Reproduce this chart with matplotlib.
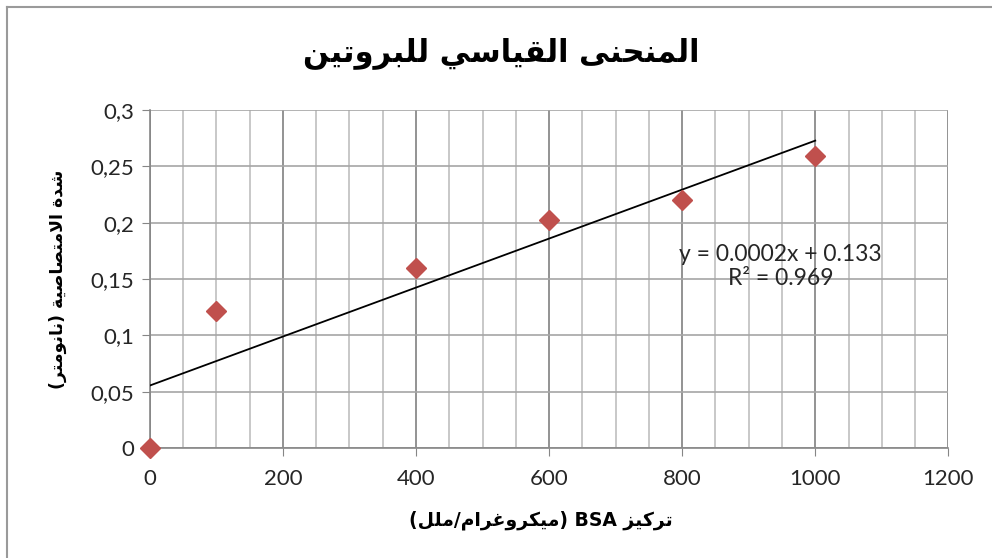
import numpy as np
import matplotlib
matplotlib.use("Agg")
import matplotlib.pyplot as plt
from matplotlib.lines import Line2D
from matplotlib.ticker import MultipleLocator, FuncFormatter

# BSA standard curve readings
concentration = [0, 100, 400, 600, 800, 1000]
absorbance = [0.0, 0.122, 0.160, 0.202, 0.220, 0.259]

title_text = "المنحنى القياسي للبروتين"
xlabel_text = "تركيز BSA (ميكروغرام/ملل)"
ylabel_text = "شدة الامتصاصية (نانومتر)"
equation_text = "y = 0.0002x + 0.133\nR² = 0.969"

x_ticks = [0, 200, 400, 600, 800, 1000, 1200]
y_ticks = [0, 0.05, 0.1, 0.15, 0.2, 0.25, 0.3]

# --- minimal Arabic shaping (matplotlib has no text layout engine for RTL) ---
# letter: (isolated, final, initial, medial); None means the form does not exist
FORMS = {
    "ا": (0xFE8D, 0xFE8E, None, None),
    "ب": (0xFE8F, 0xFE90, 0xFE91, 0xFE92),
    "ة": (0xFE93, 0xFE94, None, None),
    "ت": (0xFE95, 0xFE96, 0xFE97, 0xFE98),
    "ح": (0xFEA1, 0xFEA2, 0xFEA3, 0xFEA4),
    "د": (0xFEA9, 0xFEAA, None, None),
    "ر": (0xFEAD, 0xFEAE, None, None),
    "ز": (0xFEAF, 0xFEB0, None, None),
    "س": (0xFEB1, 0xFEB2, 0xFEB3, 0xFEB4),
    "ش": (0xFEB5, 0xFEB6, 0xFEB7, 0xFEB8),
    "ص": (0xFEB9, 0xFEBA, 0xFEBB, 0xFEBC),
    "غ": (0xFECD, 0xFECE, 0xFECF, 0xFED0),
    "ق": (0xFED5, 0xFED6, 0xFED7, 0xFED8),
    "ك": (0xFED9, 0xFEDA, 0xFEDB, 0xFEDC),
    "ل": (0xFEDD, 0xFEDE, 0xFEDF, 0xFEE0),
    "م": (0xFEE1, 0xFEE2, 0xFEE3, 0xFEE4),
    "ن": (0xFEE5, 0xFEE6, 0xFEE7, 0xFEE8),
    "و": (0xFEED, 0xFEEE, None, None),
    "ى": (0xFEEF, 0xFEF0, None, None),
    "ي": (0xFEF1, 0xFEF2, 0xFEF3, 0xFEF4),
    "ﻻ": (0xFEFB, 0xFEFC, None, None),
}


def joins_forward(ch):
    return ch in FORMS and FORMS[ch][2] is not None


def shape(text):
    text = text.replace("لا", "ﻻ")
    out = []
    for i, ch in enumerate(text):
        if ch not in FORMS:
            out.append(ch)
            continue
        prev = text[i - 1] if i > 0 else ""
        nxt = text[i + 1] if i + 1 < len(text) else ""
        left = joins_forward(prev)
        right = joins_forward(ch) and nxt in FORMS
        iso, fin, ini, med = FORMS[ch]
        if left and right:
            code = med
        elif left:
            code = fin
        elif right:
            code = ini
        else:
            code = iso
        out.append(chr(code))
    return "".join(out)


def rtl(text):
    shaped = shape(text)[::-1]
    # put latin runs back in reading order and mirror the brackets
    chars = []
    run = []
    for ch in shaped:
        if ch.isascii() and ch.isalnum():
            run.append(ch)
        else:
            chars.extend(run[::-1])
            run = []
            chars.append({"(": ")", ")": "("}.get(ch, ch))
    chars.extend(run[::-1])
    return "".join(chars)


fig = plt.figure(figsize=(9.92, 5.58), dpi=100)
ax = fig.add_axes([0.151, 0.197, 0.805, 0.606])

# chart area frame: only the top and left edges fall inside the canvas
frame_x = 7 / 992
frame_y = 1 - 7 / 558
fig.add_artist(Line2D([frame_x, 1], [frame_y, frame_y], transform=fig.transFigure,
                      color="#9a9a9a", linewidth=1.5))
fig.add_artist(Line2D([frame_x, frame_x], [0, frame_y], transform=fig.transFigure,
                      color="#9a9a9a", linewidth=1.5))

ax.set_xlim(x_ticks[0], x_ticks[-1])
ax.set_ylim(y_ticks[0], y_ticks[-1])
ax.xaxis.set_minor_locator(MultipleLocator(50))
ax.set_xticks(x_ticks)
ax.set_yticks(y_ticks)
ax.yaxis.set_major_formatter(FuncFormatter(lambda v, p: f"{v:g}".replace(".", ",")))

ax.grid(which="minor", axis="x", color="#bfbfbf", linewidth=1.2)
ax.grid(which="major", axis="x", color="#808080", linewidth=1.2)
ax.grid(which="major", axis="y", color="#a6a6a6", linewidth=1.2)
ax.set_axisbelow(True)

for side in ["top", "right"]:
    ax.spines[side].set_visible(False)
for side in ["left", "bottom"]:
    ax.spines[side].set_color("#868686")
    ax.spines[side].set_linewidth(1.2)

ax.tick_params(which="major", direction="out", length=6, color="#868686",
               labelsize=16, labelcolor="#262626")
ax.tick_params(axis="x", pad=9)
ax.tick_params(axis="y", pad=5)
ax.tick_params(which="minor", length=0)
for lab in ax.get_xticklabels() + ax.get_yticklabels():
    lab.set_fontfamily("Lato")

# least-squares trendline through the readings
slope, intercept = np.polyfit(concentration, absorbance, 1)
fit_x = np.array([concentration[0], concentration[-1]])
ax.plot(fit_x, slope * fit_x + intercept, color="black", linewidth=1.3, zorder=3)

ax.plot(concentration, absorbance, linestyle="none", marker="D", markersize=10,
        color="#c0504d", clip_on=False, zorder=4)

ax.text(948, 0.161, equation_text, ha="center", va="center", fontsize=16.5,
        family="Lato", color="#262626", linespacing=1.15, zorder=5)

fig.text(0.505, 0.905, rtl(title_text), ha="center", va="center",
         fontsize=22, fontweight="bold", family="DejaVu Sans")
fig.text(0.545, 0.068, rtl(xlabel_text), ha="center", va="center",
         fontsize=13.5, fontweight="bold", family="DejaVu Sans")
fig.text(0.058, 0.5, rtl(ylabel_text), ha="center", va="center", rotation=90,
         fontsize=12.5, fontweight="bold", family="DejaVu Sans")

fig.savefig("out.png", dpi=100)
